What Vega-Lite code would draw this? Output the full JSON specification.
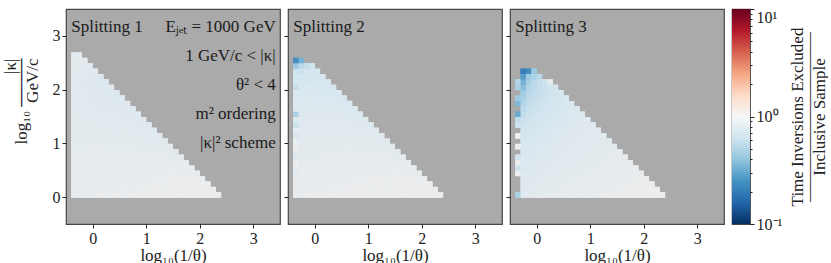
{
"$schema": "https://vega.github.io/schema/vega-lite/v6.json",
"padding": {"left": 0, "top": 7, "right": 0, "bottom": 0},
"background": "white",
"datasets": {
"p1": [
{"x":-0.41,"y":0,"v":0.86},{"x":-0.31,"y":0,"v":0.87},{"x":-0.21,"y":0,"v":0.88},{"x":-0.11,"y":0,"v":0.87},{"x":-0.01,"y":0,"v":0.88},{"x":0.09,"y":0,"v":0.89},{"x":0.19,"y":0,"v":0.88},{"x":0.29,"y":0,"v":0.89},{"x":0.39,"y":0,"v":0.89},{"x":0.49,"y":0,"v":0.88},{"x":0.59,"y":0,"v":0.89},{"x":0.69,"y":0,"v":0.9},{"x":0.79,"y":0,"v":0.89},{"x":0.89,"y":0,"v":0.9},{"x":0.99,"y":0,"v":0.9},{"x":1.09,"y":0,"v":0.89},{"x":1.19,"y":0,"v":0.9},{"x":1.29,"y":0,"v":0.91},{"x":1.39,"y":0,"v":0.9},{"x":1.49,"y":0,"v":0.91},{"x":1.59,"y":0,"v":0.91},{"x":1.69,"y":0,"v":0.9},{"x":1.79,"y":0,"v":0.91},{"x":1.89,"y":0,"v":0.92},{"x":1.99,"y":0,"v":0.91},{"x":2.09,"y":0,"v":0.92},{"x":2.19,"y":0,"v":0.91},{"x":2.29,"y":0,"v":0.92},
{"x":-0.41,"y":0.1,"v":0.85},{"x":-0.31,"y":0.1,"v":0.87},{"x":-0.21,"y":0.1,"v":0.87},{"x":-0.11,"y":0.1,"v":0.88},{"x":-0.01,"y":0.1,"v":0.87},{"x":0.09,"y":0.1,"v":0.88},{"x":0.19,"y":0.1,"v":0.89},{"x":0.29,"y":0.1,"v":0.88},{"x":0.39,"y":0.1,"v":0.88},{"x":0.49,"y":0.1,"v":0.89},{"x":0.59,"y":0.1,"v":0.89},{"x":0.69,"y":0.1,"v":0.88},{"x":0.79,"y":0.1,"v":0.89},{"x":0.89,"y":0.1,"v":0.9},{"x":0.99,"y":0.1,"v":0.89},{"x":1.09,"y":0.1,"v":0.9},{"x":1.19,"y":0.1,"v":0.89},{"x":1.29,"y":0.1,"v":0.9},{"x":1.39,"y":0.1,"v":0.91},{"x":1.49,"y":0.1,"v":0.9},{"x":1.59,"y":0.1,"v":0.91},{"x":1.69,"y":0.1,"v":0.9},{"x":1.79,"y":0.1,"v":0.91},{"x":1.89,"y":0.1,"v":0.91},{"x":1.99,"y":0.1,"v":0.92},{"x":2.09,"y":0.1,"v":0.91},{"x":2.19,"y":0.1,"v":0.91},
{"x":-0.41,"y":0.2,"v":0.86},{"x":-0.31,"y":0.2,"v":0.86},{"x":-0.21,"y":0.2,"v":0.87},{"x":-0.11,"y":0.2,"v":0.86},{"x":-0.01,"y":0.2,"v":0.88},{"x":0.09,"y":0.2,"v":0.87},{"x":0.19,"y":0.2,"v":0.88},{"x":0.29,"y":0.2,"v":0.88},{"x":0.39,"y":0.2,"v":0.87},{"x":0.49,"y":0.2,"v":0.88},{"x":0.59,"y":0.2,"v":0.89},{"x":0.69,"y":0.2,"v":0.88},{"x":0.79,"y":0.2,"v":0.89},{"x":0.89,"y":0.2,"v":0.88},{"x":0.99,"y":0.2,"v":0.89},{"x":1.09,"y":0.2,"v":0.89},{"x":1.19,"y":0.2,"v":0.9},{"x":1.29,"y":0.2,"v":0.89},{"x":1.39,"y":0.2,"v":0.9},{"x":1.49,"y":0.2,"v":0.89},{"x":1.59,"y":0.2,"v":0.9},{"x":1.69,"y":0.2,"v":0.9},{"x":1.79,"y":0.2,"v":0.91},{"x":1.89,"y":0.2,"v":0.9},{"x":1.99,"y":0.2,"v":0.9},{"x":2.09,"y":0.2,"v":0.89},
{"x":-0.41,"y":0.3,"v":0.85},{"x":-0.31,"y":0.3,"v":0.86},{"x":-0.21,"y":0.3,"v":0.86},{"x":-0.11,"y":0.3,"v":0.87},{"x":-0.01,"y":0.3,"v":0.86},{"x":0.09,"y":0.3,"v":0.87},{"x":0.19,"y":0.3,"v":0.87},{"x":0.29,"y":0.3,"v":0.88},{"x":0.39,"y":0.3,"v":0.87},{"x":0.49,"y":0.3,"v":0.88},{"x":0.59,"y":0.3,"v":0.87},{"x":0.69,"y":0.3,"v":0.88},{"x":0.79,"y":0.3,"v":0.88},{"x":0.89,"y":0.3,"v":0.89},{"x":0.99,"y":0.3,"v":0.88},{"x":1.09,"y":0.3,"v":0.89},{"x":1.19,"y":0.3,"v":0.88},{"x":1.29,"y":0.3,"v":0.89},{"x":1.39,"y":0.3,"v":0.89},{"x":1.49,"y":0.3,"v":0.9},{"x":1.59,"y":0.3,"v":0.89},{"x":1.69,"y":0.3,"v":0.89},{"x":1.79,"y":0.3,"v":0.9},{"x":1.89,"y":0.3,"v":0.89},{"x":1.99,"y":0.3,"v":0.88},
{"x":-0.41,"y":0.4,"v":0.84},{"x":-0.31,"y":0.4,"v":0.85},{"x":-0.21,"y":0.4,"v":0.86},{"x":-0.11,"y":0.4,"v":0.85},{"x":-0.01,"y":0.4,"v":0.86},{"x":0.09,"y":0.4,"v":0.86},{"x":0.19,"y":0.4,"v":0.87},{"x":0.29,"y":0.4,"v":0.86},{"x":0.39,"y":0.4,"v":0.87},{"x":0.49,"y":0.4,"v":0.86},{"x":0.59,"y":0.4,"v":0.87},{"x":0.69,"y":0.4,"v":0.87},{"x":0.79,"y":0.4,"v":0.88},{"x":0.89,"y":0.4,"v":0.87},{"x":0.99,"y":0.4,"v":0.88},{"x":1.09,"y":0.4,"v":0.88},{"x":1.19,"y":0.4,"v":0.87},{"x":1.29,"y":0.4,"v":0.88},{"x":1.39,"y":0.4,"v":0.89},{"x":1.49,"y":0.4,"v":0.88},{"x":1.59,"y":0.4,"v":0.88},{"x":1.69,"y":0.4,"v":0.89},{"x":1.79,"y":0.4,"v":0.88},{"x":1.89,"y":0.4,"v":0.87},
{"x":-0.41,"y":0.5,"v":0.84},{"x":-0.31,"y":0.5,"v":0.84},{"x":-0.21,"y":0.5,"v":0.85},{"x":-0.11,"y":0.5,"v":0.85},{"x":-0.01,"y":0.5,"v":0.86},{"x":0.09,"y":0.5,"v":0.85},{"x":0.19,"y":0.5,"v":0.86},{"x":0.29,"y":0.5,"v":0.86},{"x":0.39,"y":0.5,"v":0.85},{"x":0.49,"y":0.5,"v":0.86},{"x":0.59,"y":0.5,"v":0.86},{"x":0.69,"y":0.5,"v":0.87},{"x":0.79,"y":0.5,"v":0.86},{"x":0.89,"y":0.5,"v":0.87},{"x":0.99,"y":0.5,"v":0.87},{"x":1.09,"y":0.5,"v":0.86},{"x":1.19,"y":0.5,"v":0.87},{"x":1.29,"y":0.5,"v":0.87},{"x":1.39,"y":0.5,"v":0.88},{"x":1.49,"y":0.5,"v":0.87},{"x":1.59,"y":0.5,"v":0.87},{"x":1.69,"y":0.5,"v":0.86},{"x":1.79,"y":0.5,"v":0.85},
{"x":-0.41,"y":0.6,"v":0.83},{"x":-0.31,"y":0.6,"v":0.84},{"x":-0.21,"y":0.6,"v":0.84},{"x":-0.11,"y":0.6,"v":0.85},{"x":-0.01,"y":0.6,"v":0.84},{"x":0.09,"y":0.6,"v":0.85},{"x":0.19,"y":0.6,"v":0.85},{"x":0.29,"y":0.6,"v":0.84},{"x":0.39,"y":0.6,"v":0.85},{"x":0.49,"y":0.6,"v":0.85},{"x":0.59,"y":0.6,"v":0.86},{"x":0.69,"y":0.6,"v":0.85},{"x":0.79,"y":0.6,"v":0.86},{"x":0.89,"y":0.6,"v":0.85},{"x":0.99,"y":0.6,"v":0.86},{"x":1.09,"y":0.6,"v":0.86},{"x":1.19,"y":0.6,"v":0.85},{"x":1.29,"y":0.6,"v":0.86},{"x":1.39,"y":0.6,"v":0.86},{"x":1.49,"y":0.6,"v":0.85},{"x":1.59,"y":0.6,"v":0.84},{"x":1.69,"y":0.6,"v":0.83},
{"x":-0.41,"y":0.7,"v":0.84},{"x":-0.31,"y":0.7,"v":0.83},{"x":-0.21,"y":0.7,"v":0.84},{"x":-0.11,"y":0.7,"v":0.84},{"x":-0.01,"y":0.7,"v":0.84},{"x":0.09,"y":0.7,"v":0.84},{"x":0.19,"y":0.7,"v":0.83},{"x":0.29,"y":0.7,"v":0.84},{"x":0.39,"y":0.7,"v":0.84},{"x":0.49,"y":0.7,"v":0.85},{"x":0.59,"y":0.7,"v":0.84},{"x":0.69,"y":0.7,"v":0.85},{"x":0.79,"y":0.7,"v":0.84},{"x":0.89,"y":0.7,"v":0.85},{"x":0.99,"y":0.7,"v":0.84},{"x":1.09,"y":0.7,"v":0.85},{"x":1.19,"y":0.7,"v":0.84},{"x":1.29,"y":0.7,"v":0.84},{"x":1.39,"y":0.7,"v":0.83},{"x":1.49,"y":0.7,"v":0.82},{"x":1.59,"y":0.7,"v":0.81},
{"x":-0.41,"y":0.8,"v":0.83},{"x":-0.31,"y":0.8,"v":0.83},{"x":-0.21,"y":0.8,"v":0.83},{"x":-0.11,"y":0.8,"v":0.84},{"x":-0.01,"y":0.8,"v":0.83},{"x":0.09,"y":0.8,"v":0.83},{"x":0.19,"y":0.8,"v":0.83},{"x":0.29,"y":0.8,"v":0.84},{"x":0.39,"y":0.8,"v":0.83},{"x":0.49,"y":0.8,"v":0.83},{"x":0.59,"y":0.8,"v":0.84},{"x":0.69,"y":0.8,"v":0.83},{"x":0.79,"y":0.8,"v":0.84},{"x":0.89,"y":0.8,"v":0.83},{"x":0.99,"y":0.8,"v":0.83},{"x":1.09,"y":0.8,"v":0.83},{"x":1.19,"y":0.8,"v":0.82},{"x":1.29,"y":0.8,"v":0.82},{"x":1.39,"y":0.8,"v":0.81},{"x":1.49,"y":0.8,"v":0.8},
{"x":-0.41,"y":0.9,"v":0.82},{"x":-0.31,"y":0.9,"v":0.83},{"x":-0.21,"y":0.9,"v":0.82},{"x":-0.11,"y":0.9,"v":0.83},{"x":-0.01,"y":0.9,"v":0.82},{"x":0.09,"y":0.9,"v":0.83},{"x":0.19,"y":0.9,"v":0.82},{"x":0.29,"y":0.9,"v":0.83},{"x":0.39,"y":0.9,"v":0.82},{"x":0.49,"y":0.9,"v":0.82},{"x":0.59,"y":0.9,"v":0.83},{"x":0.69,"y":0.9,"v":0.82},{"x":0.79,"y":0.9,"v":0.82},{"x":0.89,"y":0.9,"v":0.81},{"x":0.99,"y":0.9,"v":0.82},{"x":1.09,"y":0.9,"v":0.81},{"x":1.19,"y":0.9,"v":0.8},{"x":1.29,"y":0.9,"v":0.8},{"x":1.39,"y":0.9,"v":0.79},
{"x":-0.41,"y":1,"v":0.83},{"x":-0.31,"y":1,"v":0.82},{"x":-0.21,"y":1,"v":0.82},{"x":-0.11,"y":1,"v":0.82},{"x":-0.01,"y":1,"v":0.82},{"x":0.09,"y":1,"v":0.81},{"x":0.19,"y":1,"v":0.82},{"x":0.29,"y":1,"v":0.82},{"x":0.39,"y":1,"v":0.81},{"x":0.49,"y":1,"v":0.82},{"x":0.59,"y":1,"v":0.81},{"x":0.69,"y":1,"v":0.81},{"x":0.79,"y":1,"v":0.81},{"x":0.89,"y":1,"v":0.8},{"x":0.99,"y":1,"v":0.8},{"x":1.09,"y":1,"v":0.79},{"x":1.19,"y":1,"v":0.79},{"x":1.29,"y":1,"v":0.78},
{"x":-0.41,"y":1.1,"v":0.82},{"x":-0.31,"y":1.1,"v":0.82},{"x":-0.21,"y":1.1,"v":0.81},{"x":-0.11,"y":1.1,"v":0.82},{"x":-0.01,"y":1.1,"v":0.81},{"x":0.09,"y":1.1,"v":0.81},{"x":0.19,"y":1.1,"v":0.81},{"x":0.29,"y":1.1,"v":0.8},{"x":0.39,"y":1.1,"v":0.81},{"x":0.49,"y":1.1,"v":0.8},{"x":0.59,"y":1.1,"v":0.8},{"x":0.69,"y":1.1,"v":0.8},{"x":0.79,"y":1.1,"v":0.79},{"x":0.89,"y":1.1,"v":0.79},{"x":0.99,"y":1.1,"v":0.78},{"x":1.09,"y":1.1,"v":0.78},{"x":1.19,"y":1.1,"v":0.77},
{"x":-0.41,"y":1.2,"v":0.82},{"x":-0.31,"y":1.2,"v":0.81},{"x":-0.21,"y":1.2,"v":0.81},{"x":-0.11,"y":1.2,"v":0.8},{"x":-0.01,"y":1.2,"v":0.81},{"x":0.09,"y":1.2,"v":0.8},{"x":0.19,"y":1.2,"v":0.8},{"x":0.29,"y":1.2,"v":0.8},{"x":0.39,"y":1.2,"v":0.79},{"x":0.49,"y":1.2,"v":0.8},{"x":0.59,"y":1.2,"v":0.79},{"x":0.69,"y":1.2,"v":0.79},{"x":0.79,"y":1.2,"v":0.78},{"x":0.89,"y":1.2,"v":0.78},{"x":0.99,"y":1.2,"v":0.77},{"x":1.09,"y":1.2,"v":0.76},
{"x":-0.41,"y":1.3,"v":0.81},{"x":-0.31,"y":1.3,"v":0.81},{"x":-0.21,"y":1.3,"v":0.8},{"x":-0.11,"y":1.3,"v":0.8},{"x":-0.01,"y":1.3,"v":0.8},{"x":0.09,"y":1.3,"v":0.79},{"x":0.19,"y":1.3,"v":0.8},{"x":0.29,"y":1.3,"v":0.79},{"x":0.39,"y":1.3,"v":0.79},{"x":0.49,"y":1.3,"v":0.78},{"x":0.59,"y":1.3,"v":0.78},{"x":0.69,"y":1.3,"v":0.78},{"x":0.79,"y":1.3,"v":0.77},{"x":0.89,"y":1.3,"v":0.76},{"x":0.99,"y":1.3,"v":0.76},
{"x":-0.41,"y":1.4,"v":0.81},{"x":-0.31,"y":1.4,"v":0.8},{"x":-0.21,"y":1.4,"v":0.8},{"x":-0.11,"y":1.4,"v":0.79},{"x":-0.01,"y":1.4,"v":0.79},{"x":0.09,"y":1.4,"v":0.79},{"x":0.19,"y":1.4,"v":0.78},{"x":0.29,"y":1.4,"v":0.78},{"x":0.39,"y":1.4,"v":0.78},{"x":0.49,"y":1.4,"v":0.77},{"x":0.59,"y":1.4,"v":0.77},{"x":0.69,"y":1.4,"v":0.76},{"x":0.79,"y":1.4,"v":0.76},{"x":0.89,"y":1.4,"v":0.75},
{"x":-0.41,"y":1.5,"v":0.8},{"x":-0.31,"y":1.5,"v":0.8},{"x":-0.21,"y":1.5,"v":0.79},{"x":-0.11,"y":1.5,"v":0.79},{"x":-0.01,"y":1.5,"v":0.78},{"x":0.09,"y":1.5,"v":0.78},{"x":0.19,"y":1.5,"v":0.78},{"x":0.29,"y":1.5,"v":0.77},{"x":0.39,"y":1.5,"v":0.77},{"x":0.49,"y":1.5,"v":0.76},{"x":0.59,"y":1.5,"v":0.76},{"x":0.69,"y":1.5,"v":0.75},{"x":0.79,"y":1.5,"v":0.75},
{"x":-0.41,"y":1.6,"v":0.81},{"x":-0.31,"y":1.6,"v":0.79},{"x":-0.21,"y":1.6,"v":0.79},{"x":-0.11,"y":1.6,"v":0.78},{"x":-0.01,"y":1.6,"v":0.78},{"x":0.09,"y":1.6,"v":0.77},{"x":0.19,"y":1.6,"v":0.77},{"x":0.29,"y":1.6,"v":0.77},{"x":0.39,"y":1.6,"v":0.76},{"x":0.49,"y":1.6,"v":0.76},{"x":0.59,"y":1.6,"v":0.75},{"x":0.69,"y":1.6,"v":0.75},
{"x":-0.41,"y":1.7,"v":0.8},{"x":-0.31,"y":1.7,"v":0.79},{"x":-0.21,"y":1.7,"v":0.78},{"x":-0.11,"y":1.7,"v":0.78},{"x":-0.01,"y":1.7,"v":0.77},{"x":0.09,"y":1.7,"v":0.77},{"x":0.19,"y":1.7,"v":0.76},{"x":0.29,"y":1.7,"v":0.76},{"x":0.39,"y":1.7,"v":0.76},{"x":0.49,"y":1.7,"v":0.75},{"x":0.59,"y":1.7,"v":0.75},
{"x":-0.41,"y":1.8,"v":0.8},{"x":-0.31,"y":1.8,"v":0.79},{"x":-0.21,"y":1.8,"v":0.78},{"x":-0.11,"y":1.8,"v":0.77},{"x":-0.01,"y":1.8,"v":0.77},{"x":0.09,"y":1.8,"v":0.76},{"x":0.19,"y":1.8,"v":0.76},{"x":0.29,"y":1.8,"v":0.75},{"x":0.39,"y":1.8,"v":0.75},{"x":0.49,"y":1.8,"v":0.74},
{"x":-0.41,"y":1.9,"v":0.81},{"x":-0.31,"y":1.9,"v":0.78},{"x":-0.21,"y":1.9,"v":0.78},{"x":-0.11,"y":1.9,"v":0.77},{"x":-0.01,"y":1.9,"v":0.76},{"x":0.09,"y":1.9,"v":0.76},{"x":0.19,"y":1.9,"v":0.75},{"x":0.29,"y":1.9,"v":0.75},{"x":0.39,"y":1.9,"v":0.74},
{"x":-0.41,"y":2,"v":0.8},{"x":-0.31,"y":2,"v":0.78},{"x":-0.21,"y":2,"v":0.77},{"x":-0.11,"y":2,"v":0.77},{"x":-0.01,"y":2,"v":0.76},{"x":0.09,"y":2,"v":0.75},{"x":0.19,"y":2,"v":0.75},{"x":0.29,"y":2,"v":0.74},
{"x":-0.41,"y":2.1,"v":0.81},{"x":-0.31,"y":2.1,"v":0.79},{"x":-0.21,"y":2.1,"v":0.77},{"x":-0.11,"y":2.1,"v":0.76},{"x":-0.01,"y":2.1,"v":0.76},{"x":0.09,"y":2.1,"v":0.75},{"x":0.19,"y":2.1,"v":0.75},
{"x":-0.41,"y":2.2,"v":0.8},{"x":-0.31,"y":2.2,"v":0.78},{"x":-0.21,"y":2.2,"v":0.77},{"x":-0.11,"y":2.2,"v":0.76},{"x":-0.01,"y":2.2,"v":0.76},{"x":0.09,"y":2.2,"v":0.75},
{"x":-0.41,"y":2.3,"v":0.81},{"x":-0.31,"y":2.3,"v":0.79},{"x":-0.21,"y":2.3,"v":0.78},{"x":-0.11,"y":2.3,"v":0.77},{"x":-0.01,"y":2.3,"v":0.76},
{"x":-0.41,"y":2.4,"v":0.82},{"x":-0.31,"y":2.4,"v":0.8},{"x":-0.21,"y":2.4,"v":0.79},{"x":-0.11,"y":2.4,"v":0.78},
{"x":-0.41,"y":2.5,"v":0.82},{"x":-0.31,"y":2.5,"v":0.81},{"x":-0.21,"y":2.5,"v":0.8},
{"x":-0.41,"y":2.6,"v":0.83},{"x":-0.31,"y":2.6,"v":0.82}
],
"p2": [
{"x":-0.41,"y":0,"v":0.85},{"x":-0.31,"y":0,"v":0.88},{"x":-0.21,"y":0,"v":0.89},{"x":-0.11,"y":0,"v":0.88},{"x":-0.01,"y":0,"v":0.89},{"x":0.09,"y":0,"v":0.89},{"x":0.19,"y":0,"v":0.9},{"x":0.29,"y":0,"v":0.89},{"x":0.39,"y":0,"v":0.9},{"x":0.49,"y":0,"v":0.9},{"x":0.59,"y":0,"v":0.9},{"x":0.69,"y":0,"v":0.91},{"x":0.79,"y":0,"v":0.9},{"x":0.89,"y":0,"v":0.91},{"x":0.99,"y":0,"v":0.91},{"x":1.09,"y":0,"v":0.9},{"x":1.19,"y":0,"v":0.91},{"x":1.29,"y":0,"v":0.91},{"x":1.39,"y":0,"v":0.92},{"x":1.49,"y":0,"v":0.91},{"x":1.59,"y":0,"v":0.92},{"x":1.69,"y":0,"v":0.92},{"x":1.79,"y":0,"v":0.91},{"x":1.89,"y":0,"v":0.92},{"x":1.99,"y":0,"v":0.93},{"x":2.09,"y":0,"v":0.92},{"x":2.19,"y":0,"v":0.92},{"x":2.29,"y":0,"v":0.93},
{"x":-0.41,"y":0.1,"v":0.87},{"x":-0.31,"y":0.1,"v":0.87},{"x":-0.21,"y":0.1,"v":0.88},{"x":-0.11,"y":0.1,"v":0.88},{"x":-0.01,"y":0.1,"v":0.89},{"x":0.09,"y":0.1,"v":0.88},{"x":0.19,"y":0.1,"v":0.89},{"x":0.29,"y":0.1,"v":0.89},{"x":0.39,"y":0.1,"v":0.89},{"x":0.49,"y":0.1,"v":0.9},{"x":0.59,"y":0.1,"v":0.89},{"x":0.69,"y":0.1,"v":0.9},{"x":0.79,"y":0.1,"v":0.9},{"x":0.89,"y":0.1,"v":0.9},{"x":0.99,"y":0.1,"v":0.91},{"x":1.09,"y":0.1,"v":0.9},{"x":1.19,"y":0.1,"v":0.91},{"x":1.29,"y":0.1,"v":0.91},{"x":1.39,"y":0.1,"v":0.9},{"x":1.49,"y":0.1,"v":0.91},{"x":1.59,"y":0.1,"v":0.92},{"x":1.69,"y":0.1,"v":0.91},{"x":1.79,"y":0.1,"v":0.92},{"x":1.89,"y":0.1,"v":0.92},{"x":1.99,"y":0.1,"v":0.91},{"x":2.09,"y":0.1,"v":0.92},{"x":2.19,"y":0.1,"v":0.91},
{"x":-0.41,"y":0.2,"v":0.83},{"x":-0.31,"y":0.2,"v":0.86},{"x":-0.21,"y":0.2,"v":0.87},{"x":-0.11,"y":0.2,"v":0.87},{"x":-0.01,"y":0.2,"v":0.88},{"x":0.09,"y":0.2,"v":0.87},{"x":0.19,"y":0.2,"v":0.88},{"x":0.29,"y":0.2,"v":0.88},{"x":0.39,"y":0.2,"v":0.89},{"x":0.49,"y":0.2,"v":0.88},{"x":0.59,"y":0.2,"v":0.89},{"x":0.69,"y":0.2,"v":0.89},{"x":0.79,"y":0.2,"v":0.89},{"x":0.89,"y":0.2,"v":0.9},{"x":0.99,"y":0.2,"v":0.89},{"x":1.09,"y":0.2,"v":0.9},{"x":1.19,"y":0.2,"v":0.9},{"x":1.29,"y":0.2,"v":0.9},{"x":1.39,"y":0.2,"v":0.91},{"x":1.49,"y":0.2,"v":0.9},{"x":1.59,"y":0.2,"v":0.91},{"x":1.69,"y":0.2,"v":0.91},{"x":1.79,"y":0.2,"v":0.9},{"x":1.89,"y":0.2,"v":0.91},{"x":1.99,"y":0.2,"v":0.9},{"x":2.09,"y":0.2,"v":0.89},
{"x":-0.41,"y":0.3,"v":0.86},{"x":-0.31,"y":0.3,"v":0.85},{"x":-0.21,"y":0.3,"v":0.86},{"x":-0.11,"y":0.3,"v":0.86},{"x":-0.01,"y":0.3,"v":0.87},{"x":0.09,"y":0.3,"v":0.87},{"x":0.19,"y":0.3,"v":0.87},{"x":0.29,"y":0.3,"v":0.88},{"x":0.39,"y":0.3,"v":0.87},{"x":0.49,"y":0.3,"v":0.88},{"x":0.59,"y":0.3,"v":0.88},{"x":0.69,"y":0.3,"v":0.89},{"x":0.79,"y":0.3,"v":0.88},{"x":0.89,"y":0.3,"v":0.89},{"x":0.99,"y":0.3,"v":0.89},{"x":1.09,"y":0.3,"v":0.89},{"x":1.19,"y":0.3,"v":0.89},{"x":1.29,"y":0.3,"v":0.9},{"x":1.39,"y":0.3,"v":0.89},{"x":1.49,"y":0.3,"v":0.9},{"x":1.59,"y":0.3,"v":0.9},{"x":1.69,"y":0.3,"v":0.89},{"x":1.79,"y":0.3,"v":0.9},{"x":1.89,"y":0.3,"v":0.89},{"x":1.99,"y":0.3,"v":0.88},
{"x":-0.41,"y":0.4,"v":0.77},{"x":-0.31,"y":0.4,"v":0.84},{"x":-0.21,"y":0.4,"v":0.85},{"x":-0.11,"y":0.4,"v":0.85},{"x":-0.01,"y":0.4,"v":0.86},{"x":0.09,"y":0.4,"v":0.86},{"x":0.19,"y":0.4,"v":0.86},{"x":0.29,"y":0.4,"v":0.86},{"x":0.39,"y":0.4,"v":0.87},{"x":0.49,"y":0.4,"v":0.87},{"x":0.59,"y":0.4,"v":0.87},{"x":0.69,"y":0.4,"v":0.87},{"x":0.79,"y":0.4,"v":0.88},{"x":0.89,"y":0.4,"v":0.87},{"x":0.99,"y":0.4,"v":0.88},{"x":1.09,"y":0.4,"v":0.88},{"x":1.19,"y":0.4,"v":0.88},{"x":1.29,"y":0.4,"v":0.89},{"x":1.39,"y":0.4,"v":0.88},{"x":1.49,"y":0.4,"v":0.89},{"x":1.59,"y":0.4,"v":0.88},{"x":1.69,"y":0.4,"v":0.89},{"x":1.79,"y":0.4,"v":0.88},{"x":1.89,"y":0.4,"v":0.87},
{"x":-0.41,"y":0.5,"v":0.87},{"x":-0.31,"y":0.5,"v":0.83},{"x":-0.21,"y":0.5,"v":0.84},{"x":-0.11,"y":0.5,"v":0.84},{"x":-0.01,"y":0.5,"v":0.85},{"x":0.09,"y":0.5,"v":0.85},{"x":0.19,"y":0.5,"v":0.85},{"x":0.29,"y":0.5,"v":0.86},{"x":0.39,"y":0.5,"v":0.85},{"x":0.49,"y":0.5,"v":0.86},{"x":0.59,"y":0.5,"v":0.86},{"x":0.69,"y":0.5,"v":0.86},{"x":0.79,"y":0.5,"v":0.87},{"x":0.89,"y":0.5,"v":0.86},{"x":0.99,"y":0.5,"v":0.87},{"x":1.09,"y":0.5,"v":0.87},{"x":1.19,"y":0.5,"v":0.87},{"x":1.29,"y":0.5,"v":0.87},{"x":1.39,"y":0.5,"v":0.88},{"x":1.49,"y":0.5,"v":0.87},{"x":1.59,"y":0.5,"v":0.87},{"x":1.69,"y":0.5,"v":0.86},{"x":1.79,"y":0.5,"v":0.85},
{"x":-0.41,"y":0.6,"v":0.92},{"x":-0.31,"y":0.6,"v":0.82},{"x":-0.21,"y":0.6,"v":0.83},{"x":-0.11,"y":0.6,"v":0.83},{"x":-0.01,"y":0.6,"v":0.84},{"x":0.09,"y":0.6,"v":0.84},{"x":0.19,"y":0.6,"v":0.84},{"x":0.29,"y":0.6,"v":0.85},{"x":0.39,"y":0.6,"v":0.84},{"x":0.49,"y":0.6,"v":0.85},{"x":0.59,"y":0.6,"v":0.85},{"x":0.69,"y":0.6,"v":0.85},{"x":0.79,"y":0.6,"v":0.86},{"x":0.89,"y":0.6,"v":0.85},{"x":0.99,"y":0.6,"v":0.86},{"x":1.09,"y":0.6,"v":0.86},{"x":1.19,"y":0.6,"v":0.86},{"x":1.29,"y":0.6,"v":0.86},{"x":1.39,"y":0.6,"v":0.86},{"x":1.49,"y":0.6,"v":0.85},{"x":1.59,"y":0.6,"v":0.84},{"x":1.69,"y":0.6,"v":0.83},
{"x":-0.41,"y":0.7,"v":0.75},{"x":-0.31,"y":0.7,"v":0.81},{"x":-0.21,"y":0.7,"v":0.82},{"x":-0.11,"y":0.7,"v":0.82},{"x":-0.01,"y":0.7,"v":0.83},{"x":0.09,"y":0.7,"v":0.83},{"x":0.19,"y":0.7,"v":0.83},{"x":0.29,"y":0.7,"v":0.83},{"x":0.39,"y":0.7,"v":0.84},{"x":0.49,"y":0.7,"v":0.84},{"x":0.59,"y":0.7,"v":0.84},{"x":0.69,"y":0.7,"v":0.84},{"x":0.79,"y":0.7,"v":0.84},{"x":0.89,"y":0.7,"v":0.85},{"x":0.99,"y":0.7,"v":0.84},{"x":1.09,"y":0.7,"v":0.85},{"x":1.19,"y":0.7,"v":0.84},{"x":1.29,"y":0.7,"v":0.84},{"x":1.39,"y":0.7,"v":0.83},{"x":1.49,"y":0.7,"v":0.82},{"x":1.59,"y":0.7,"v":0.81},
{"x":-0.41,"y":0.8,"v":0.85},{"x":-0.31,"y":0.8,"v":0.81},{"x":-0.21,"y":0.8,"v":0.81},{"x":-0.11,"y":0.8,"v":0.81},{"x":-0.01,"y":0.8,"v":0.82},{"x":0.09,"y":0.8,"v":0.82},{"x":0.19,"y":0.8,"v":0.82},{"x":0.29,"y":0.8,"v":0.83},{"x":0.39,"y":0.8,"v":0.82},{"x":0.49,"y":0.8,"v":0.83},{"x":0.59,"y":0.8,"v":0.83},{"x":0.69,"y":0.8,"v":0.83},{"x":0.79,"y":0.8,"v":0.83},{"x":0.89,"y":0.8,"v":0.83},{"x":0.99,"y":0.8,"v":0.83},{"x":1.09,"y":0.8,"v":0.83},{"x":1.19,"y":0.8,"v":0.82},{"x":1.29,"y":0.8,"v":0.82},{"x":1.39,"y":0.8,"v":0.81},{"x":1.49,"y":0.8,"v":0.8},
{"x":-0.41,"y":0.9,"v":0.89},{"x":-0.31,"y":0.9,"v":0.8},{"x":-0.21,"y":0.9,"v":0.8},{"x":-0.11,"y":0.9,"v":0.81},{"x":-0.01,"y":0.9,"v":0.81},{"x":0.09,"y":0.9,"v":0.81},{"x":0.19,"y":0.9,"v":0.81},{"x":0.29,"y":0.9,"v":0.82},{"x":0.39,"y":0.9,"v":0.82},{"x":0.49,"y":0.9,"v":0.82},{"x":0.59,"y":0.9,"v":0.82},{"x":0.69,"y":0.9,"v":0.82},{"x":0.79,"y":0.9,"v":0.82},{"x":0.89,"y":0.9,"v":0.82},{"x":0.99,"y":0.9,"v":0.82},{"x":1.09,"y":0.9,"v":0.81},{"x":1.19,"y":0.9,"v":0.81},{"x":1.29,"y":0.9,"v":0.8},{"x":1.39,"y":0.9,"v":0.79},
{"x":-0.41,"y":1,"v":0.91},{"x":-0.31,"y":1,"v":0.79},{"x":-0.21,"y":1,"v":0.8},{"x":-0.11,"y":1,"v":0.8},{"x":-0.01,"y":1,"v":0.8},{"x":0.09,"y":1,"v":0.81},{"x":0.19,"y":1,"v":0.81},{"x":0.29,"y":1,"v":0.81},{"x":0.39,"y":1,"v":0.81},{"x":0.49,"y":1,"v":0.81},{"x":0.59,"y":1,"v":0.81},{"x":0.69,"y":1,"v":0.81},{"x":0.79,"y":1,"v":0.81},{"x":0.89,"y":1,"v":0.81},{"x":0.99,"y":1,"v":0.8},{"x":1.09,"y":1,"v":0.8},{"x":1.19,"y":1,"v":0.79},{"x":1.29,"y":1,"v":0.78},
{"x":-0.41,"y":1.1,"v":0.7},{"x":-0.31,"y":1.1,"v":0.79},{"x":-0.21,"y":1.1,"v":0.79},{"x":-0.11,"y":1.1,"v":0.79},{"x":-0.01,"y":1.1,"v":0.8},{"x":0.09,"y":1.1,"v":0.8},{"x":0.19,"y":1.1,"v":0.8},{"x":0.29,"y":1.1,"v":0.8},{"x":0.39,"y":1.1,"v":0.8},{"x":0.49,"y":1.1,"v":0.8},{"x":0.59,"y":1.1,"v":0.8},{"x":0.69,"y":1.1,"v":0.8},{"x":0.79,"y":1.1,"v":0.8},{"x":0.89,"y":1.1,"v":0.79},{"x":0.99,"y":1.1,"v":0.79},{"x":1.09,"y":1.1,"v":0.78},{"x":1.19,"y":1.1,"v":0.77},
{"x":-0.41,"y":1.2,"v":0.83},{"x":-0.31,"y":1.2,"v":0.78},{"x":-0.21,"y":1.2,"v":0.78},{"x":-0.11,"y":1.2,"v":0.79},{"x":-0.01,"y":1.2,"v":0.79},{"x":0.09,"y":1.2,"v":0.79},{"x":0.19,"y":1.2,"v":0.79},{"x":0.29,"y":1.2,"v":0.79},{"x":0.39,"y":1.2,"v":0.79},{"x":0.49,"y":1.2,"v":0.79},{"x":0.59,"y":1.2,"v":0.79},{"x":0.69,"y":1.2,"v":0.79},{"x":0.79,"y":1.2,"v":0.78},{"x":0.89,"y":1.2,"v":0.78},{"x":0.99,"y":1.2,"v":0.77},{"x":1.09,"y":1.2,"v":0.76},
{"x":-0.41,"y":1.3,"v":0.6},{"x":-0.31,"y":1.3,"v":0.77},{"x":-0.21,"y":1.3,"v":0.78},{"x":-0.11,"y":1.3,"v":0.78},{"x":-0.01,"y":1.3,"v":0.78},{"x":0.09,"y":1.3,"v":0.78},{"x":0.19,"y":1.3,"v":0.78},{"x":0.29,"y":1.3,"v":0.78},{"x":0.39,"y":1.3,"v":0.78},{"x":0.49,"y":1.3,"v":0.78},{"x":0.59,"y":1.3,"v":0.78},{"x":0.69,"y":1.3,"v":0.77},{"x":0.79,"y":1.3,"v":0.77},{"x":0.89,"y":1.3,"v":0.76},{"x":0.99,"y":1.3,"v":0.75},
{"x":-0.41,"y":1.4,"v":0.77},{"x":-0.31,"y":1.4,"v":0.76},{"x":-0.21,"y":1.4,"v":0.77},{"x":-0.11,"y":1.4,"v":0.77},{"x":-0.01,"y":1.4,"v":0.77},{"x":0.09,"y":1.4,"v":0.77},{"x":0.19,"y":1.4,"v":0.77},{"x":0.29,"y":1.4,"v":0.77},{"x":0.39,"y":1.4,"v":0.77},{"x":0.49,"y":1.4,"v":0.77},{"x":0.59,"y":1.4,"v":0.76},{"x":0.69,"y":1.4,"v":0.76},{"x":0.79,"y":1.4,"v":0.75},{"x":0.89,"y":1.4,"v":0.74},
{"x":-0.41,"y":1.5,"v":0.45},{"x":-0.31,"y":1.5,"v":0.75},{"x":-0.21,"y":1.5,"v":0.76},{"x":-0.11,"y":1.5,"v":0.76},{"x":-0.01,"y":1.5,"v":0.76},{"x":0.09,"y":1.5,"v":0.76},{"x":0.19,"y":1.5,"v":0.76},{"x":0.29,"y":1.5,"v":0.76},{"x":0.39,"y":1.5,"v":0.76},{"x":0.49,"y":1.5,"v":0.75},{"x":0.59,"y":1.5,"v":0.75},{"x":0.69,"y":1.5,"v":0.74},{"x":0.79,"y":1.5,"v":0.73},
{"x":-0.41,"y":1.6,"v":0.73},{"x":-0.31,"y":1.6,"v":0.74},{"x":-0.21,"y":1.6,"v":0.75},{"x":-0.11,"y":1.6,"v":0.75},{"x":-0.01,"y":1.6,"v":0.75},{"x":0.09,"y":1.6,"v":0.75},{"x":0.19,"y":1.6,"v":0.75},{"x":0.29,"y":1.6,"v":0.75},{"x":0.39,"y":1.6,"v":0.74},{"x":0.49,"y":1.6,"v":0.74},{"x":0.59,"y":1.6,"v":0.73},{"x":0.69,"y":1.6,"v":0.73},
{"x":-0.41,"y":1.7,"v":0.77},{"x":-0.31,"y":1.7,"v":0.73},{"x":-0.21,"y":1.7,"v":0.74},{"x":-0.11,"y":1.7,"v":0.74},{"x":-0.01,"y":1.7,"v":0.74},{"x":0.09,"y":1.7,"v":0.74},{"x":0.19,"y":1.7,"v":0.74},{"x":0.29,"y":1.7,"v":0.73},{"x":0.39,"y":1.7,"v":0.73},{"x":0.49,"y":1.7,"v":0.72},{"x":0.59,"y":1.7,"v":0.72},
{"x":-0.41,"y":1.8,"v":0.71},{"x":-0.31,"y":1.8,"v":0.72},{"x":-0.21,"y":1.8,"v":0.73},{"x":-0.11,"y":1.8,"v":0.73},{"x":-0.01,"y":1.8,"v":0.73},{"x":0.09,"y":1.8,"v":0.73},{"x":0.19,"y":1.8,"v":0.72},{"x":0.29,"y":1.8,"v":0.72},{"x":0.39,"y":1.8,"v":0.71},{"x":0.49,"y":1.8,"v":0.71},
{"x":-0.41,"y":1.9,"v":0.75},{"x":-0.31,"y":1.9,"v":0.71},{"x":-0.21,"y":1.9,"v":0.72},{"x":-0.11,"y":1.9,"v":0.72},{"x":-0.01,"y":1.9,"v":0.72},{"x":0.09,"y":1.9,"v":0.71},{"x":0.19,"y":1.9,"v":0.71},{"x":0.29,"y":1.9,"v":0.7},{"x":0.39,"y":1.9,"v":0.7},
{"x":-0.41,"y":2,"v":0.56},{"x":-0.31,"y":2,"v":0.7},{"x":-0.21,"y":2,"v":0.71},{"x":-0.11,"y":2,"v":0.71},{"x":-0.01,"y":2,"v":0.7},{"x":0.09,"y":2,"v":0.7},{"x":0.19,"y":2,"v":0.69},{"x":0.29,"y":2,"v":0.69},
{"x":-0.41,"y":2.1,"v":0.69},{"x":-0.31,"y":2.1,"v":0.68},{"x":-0.21,"y":2.1,"v":0.69},{"x":-0.11,"y":2.1,"v":0.69},{"x":-0.01,"y":2.1,"v":0.69},{"x":0.09,"y":2.1,"v":0.68},{"x":0.19,"y":2.1,"v":0.68},
{"x":-0.41,"y":2.2,"v":0.67},{"x":-0.31,"y":2.2,"v":0.65},{"x":-0.21,"y":2.2,"v":0.67},{"x":-0.11,"y":2.2,"v":0.67},{"x":-0.01,"y":2.2,"v":0.67},{"x":0.09,"y":2.2,"v":0.69},
{"x":-0.41,"y":2.3,"v":0.6},{"x":-0.31,"y":2.3,"v":0.6},{"x":-0.21,"y":2.3,"v":0.63},{"x":-0.11,"y":2.3,"v":0.65},{"x":-0.01,"y":2.3,"v":0.69},
{"x":-0.41,"y":2.4,"v":0.4},{"x":-0.31,"y":2.4,"v":0.52},{"x":-0.21,"y":2.4,"v":0.56},{"x":-0.11,"y":2.4,"v":0.62},
{"x":-0.41,"y":2.5,"v":0.2},{"x":-0.31,"y":2.5,"v":0.3}
],
"p3": [
{"x":-0.41,"y":0,"v":0.45},{"x":-0.31,"y":0,"v":0.78},{"x":-0.21,"y":0,"v":0.79},{"x":-0.11,"y":0,"v":0.8},{"x":-0.01,"y":0,"v":0.81},{"x":0.09,"y":0,"v":0.82},{"x":0.19,"y":0,"v":0.82},{"x":0.29,"y":0,"v":0.83},{"x":0.39,"y":0,"v":0.84},{"x":0.49,"y":0,"v":0.84},{"x":0.59,"y":0,"v":0.85},{"x":0.69,"y":0,"v":0.86},{"x":0.79,"y":0,"v":0.86},{"x":0.89,"y":0,"v":0.87},{"x":0.99,"y":0,"v":0.87},{"x":1.09,"y":0,"v":0.88},{"x":1.19,"y":0,"v":0.89},{"x":1.29,"y":0,"v":0.89},{"x":1.39,"y":0,"v":0.9},{"x":1.49,"y":0,"v":0.9},{"x":1.59,"y":0,"v":0.91},{"x":1.69,"y":0,"v":0.91},{"x":1.79,"y":0,"v":0.92},{"x":1.89,"y":0,"v":0.92},{"x":1.99,"y":0,"v":0.93},{"x":2.09,"y":0,"v":0.93},{"x":2.19,"y":0,"v":0.94},{"x":2.29,"y":0,"v":0.94},
{"x":-0.31,"y":0.1,"v":0.77},{"x":-0.21,"y":0.1,"v":0.78},{"x":-0.11,"y":0.1,"v":0.79},{"x":-0.01,"y":0.1,"v":0.8},{"x":0.09,"y":0.1,"v":0.81},{"x":0.19,"y":0.1,"v":0.81},{"x":0.29,"y":0.1,"v":0.82},{"x":0.39,"y":0.1,"v":0.83},{"x":0.49,"y":0.1,"v":0.83},{"x":0.59,"y":0.1,"v":0.84},{"x":0.69,"y":0.1,"v":0.85},{"x":0.79,"y":0.1,"v":0.85},{"x":0.89,"y":0.1,"v":0.86},{"x":0.99,"y":0.1,"v":0.86},{"x":1.09,"y":0.1,"v":0.87},{"x":1.19,"y":0.1,"v":0.88},{"x":1.29,"y":0.1,"v":0.88},{"x":1.39,"y":0.1,"v":0.89},{"x":1.49,"y":0.1,"v":0.89},{"x":1.59,"y":0.1,"v":0.9},{"x":1.69,"y":0.1,"v":0.9},{"x":1.79,"y":0.1,"v":0.91},{"x":1.89,"y":0.1,"v":0.91},{"x":1.99,"y":0.1,"v":0.92},{"x":2.09,"y":0.1,"v":0.92},{"x":2.19,"y":0.1,"v":0.93},
{"x":-0.31,"y":0.2,"v":0.76},{"x":-0.21,"y":0.2,"v":0.77},{"x":-0.11,"y":0.2,"v":0.78},{"x":-0.01,"y":0.2,"v":0.79},{"x":0.09,"y":0.2,"v":0.8},{"x":0.19,"y":0.2,"v":0.8},{"x":0.29,"y":0.2,"v":0.81},{"x":0.39,"y":0.2,"v":0.82},{"x":0.49,"y":0.2,"v":0.82},{"x":0.59,"y":0.2,"v":0.83},{"x":0.69,"y":0.2,"v":0.84},{"x":0.79,"y":0.2,"v":0.84},{"x":0.89,"y":0.2,"v":0.85},{"x":0.99,"y":0.2,"v":0.85},{"x":1.09,"y":0.2,"v":0.86},{"x":1.19,"y":0.2,"v":0.87},{"x":1.29,"y":0.2,"v":0.87},{"x":1.39,"y":0.2,"v":0.88},{"x":1.49,"y":0.2,"v":0.88},{"x":1.59,"y":0.2,"v":0.89},{"x":1.69,"y":0.2,"v":0.89},{"x":1.79,"y":0.2,"v":0.9},{"x":1.89,"y":0.2,"v":0.9},{"x":1.99,"y":0.2,"v":0.91},{"x":2.09,"y":0.2,"v":0.91},
{"x":-0.31,"y":0.3,"v":0.75},{"x":-0.21,"y":0.3,"v":0.76},{"x":-0.11,"y":0.3,"v":0.77},{"x":-0.01,"y":0.3,"v":0.78},{"x":0.09,"y":0.3,"v":0.79},{"x":0.19,"y":0.3,"v":0.8},{"x":0.29,"y":0.3,"v":0.8},{"x":0.39,"y":0.3,"v":0.81},{"x":0.49,"y":0.3,"v":0.82},{"x":0.59,"y":0.3,"v":0.82},{"x":0.69,"y":0.3,"v":0.83},{"x":0.79,"y":0.3,"v":0.83},{"x":0.89,"y":0.3,"v":0.84},{"x":0.99,"y":0.3,"v":0.85},{"x":1.09,"y":0.3,"v":0.85},{"x":1.19,"y":0.3,"v":0.86},{"x":1.29,"y":0.3,"v":0.86},{"x":1.39,"y":0.3,"v":0.87},{"x":1.49,"y":0.3,"v":0.87},{"x":1.59,"y":0.3,"v":0.88},{"x":1.69,"y":0.3,"v":0.88},{"x":1.79,"y":0.3,"v":0.89},{"x":1.89,"y":0.3,"v":0.89},{"x":1.99,"y":0.3,"v":0.9},
{"x":-0.41,"y":0.4,"v":0.95},{"x":-0.31,"y":0.4,"v":0.74},{"x":-0.21,"y":0.4,"v":0.75},{"x":-0.11,"y":0.4,"v":0.76},{"x":-0.01,"y":0.4,"v":0.77},{"x":0.09,"y":0.4,"v":0.78},{"x":0.19,"y":0.4,"v":0.79},{"x":0.29,"y":0.4,"v":0.79},{"x":0.39,"y":0.4,"v":0.8},{"x":0.49,"y":0.4,"v":0.81},{"x":0.59,"y":0.4,"v":0.81},{"x":0.69,"y":0.4,"v":0.82},{"x":0.79,"y":0.4,"v":0.82},{"x":0.89,"y":0.4,"v":0.83},{"x":0.99,"y":0.4,"v":0.84},{"x":1.09,"y":0.4,"v":0.84},{"x":1.19,"y":0.4,"v":0.85},{"x":1.29,"y":0.4,"v":0.85},{"x":1.39,"y":0.4,"v":0.86},{"x":1.49,"y":0.4,"v":0.86},{"x":1.59,"y":0.4,"v":0.87},{"x":1.69,"y":0.4,"v":0.87},{"x":1.79,"y":0.4,"v":0.88},{"x":1.89,"y":0.4,"v":0.88},
{"x":-0.41,"y":0.5,"v":0.62},{"x":-0.31,"y":0.5,"v":0.73},{"x":-0.21,"y":0.5,"v":0.74},{"x":-0.11,"y":0.5,"v":0.75},{"x":-0.01,"y":0.5,"v":0.76},{"x":0.09,"y":0.5,"v":0.77},{"x":0.19,"y":0.5,"v":0.78},{"x":0.29,"y":0.5,"v":0.78},{"x":0.39,"y":0.5,"v":0.79},{"x":0.49,"y":0.5,"v":0.8},{"x":0.59,"y":0.5,"v":0.8},{"x":0.69,"y":0.5,"v":0.81},{"x":0.79,"y":0.5,"v":0.82},{"x":0.89,"y":0.5,"v":0.82},{"x":0.99,"y":0.5,"v":0.83},{"x":1.09,"y":0.5,"v":0.83},{"x":1.19,"y":0.5,"v":0.84},{"x":1.29,"y":0.5,"v":0.84},{"x":1.39,"y":0.5,"v":0.85},{"x":1.49,"y":0.5,"v":0.85},{"x":1.59,"y":0.5,"v":0.86},{"x":1.69,"y":0.5,"v":0.86},{"x":1.79,"y":0.5,"v":0.87},
{"x":-0.41,"y":0.6,"v":0.94},{"x":-0.31,"y":0.6,"v":0.72},{"x":-0.21,"y":0.6,"v":0.73},{"x":-0.11,"y":0.6,"v":0.74},{"x":-0.01,"y":0.6,"v":0.75},{"x":0.09,"y":0.6,"v":0.76},{"x":0.19,"y":0.6,"v":0.77},{"x":0.29,"y":0.6,"v":0.77},{"x":0.39,"y":0.6,"v":0.78},{"x":0.49,"y":0.6,"v":0.79},{"x":0.59,"y":0.6,"v":0.79},{"x":0.69,"y":0.6,"v":0.8},{"x":0.79,"y":0.6,"v":0.81},{"x":0.89,"y":0.6,"v":0.81},{"x":0.99,"y":0.6,"v":0.82},{"x":1.09,"y":0.6,"v":0.82},{"x":1.19,"y":0.6,"v":0.83},{"x":1.29,"y":0.6,"v":0.83},{"x":1.39,"y":0.6,"v":0.84},{"x":1.49,"y":0.6,"v":0.84},{"x":1.59,"y":0.6,"v":0.85},{"x":1.69,"y":0.6,"v":0.85},
{"x":-0.41,"y":0.7,"v":0.62},{"x":-0.31,"y":0.7,"v":0.71},{"x":-0.21,"y":0.7,"v":0.72},{"x":-0.11,"y":0.7,"v":0.73},{"x":-0.01,"y":0.7,"v":0.74},{"x":0.09,"y":0.7,"v":0.75},{"x":0.19,"y":0.7,"v":0.76},{"x":0.29,"y":0.7,"v":0.77},{"x":0.39,"y":0.7,"v":0.77},{"x":0.49,"y":0.7,"v":0.78},{"x":0.59,"y":0.7,"v":0.79},{"x":0.69,"y":0.7,"v":0.79},{"x":0.79,"y":0.7,"v":0.8},{"x":0.89,"y":0.7,"v":0.81},{"x":0.99,"y":0.7,"v":0.81},{"x":1.09,"y":0.7,"v":0.82},{"x":1.19,"y":0.7,"v":0.82},{"x":1.29,"y":0.7,"v":0.83},{"x":1.39,"y":0.7,"v":0.83},{"x":1.49,"y":0.7,"v":0.84},{"x":1.59,"y":0.7,"v":0.84},
{"x":-0.31,"y":0.8,"v":0.7},{"x":-0.21,"y":0.8,"v":0.71},{"x":-0.11,"y":0.8,"v":0.72},{"x":-0.01,"y":0.8,"v":0.73},{"x":0.09,"y":0.8,"v":0.74},{"x":0.19,"y":0.8,"v":0.75},{"x":0.29,"y":0.8,"v":0.76},{"x":0.39,"y":0.8,"v":0.77},{"x":0.49,"y":0.8,"v":0.77},{"x":0.59,"y":0.8,"v":0.78},{"x":0.69,"y":0.8,"v":0.79},{"x":0.79,"y":0.8,"v":0.79},{"x":0.89,"y":0.8,"v":0.8},{"x":0.99,"y":0.8,"v":0.81},{"x":1.09,"y":0.8,"v":0.81},{"x":1.19,"y":0.8,"v":0.82},{"x":1.29,"y":0.8,"v":0.82},{"x":1.39,"y":0.8,"v":0.83},{"x":1.49,"y":0.8,"v":0.83},
{"x":-0.41,"y":0.9,"v":0.96},{"x":-0.31,"y":0.9,"v":0.69},{"x":-0.21,"y":0.9,"v":0.7},{"x":-0.11,"y":0.9,"v":0.71},{"x":-0.01,"y":0.9,"v":0.72},{"x":0.09,"y":0.9,"v":0.73},{"x":0.19,"y":0.9,"v":0.74},{"x":0.29,"y":0.9,"v":0.75},{"x":0.39,"y":0.9,"v":0.76},{"x":0.49,"y":0.9,"v":0.77},{"x":0.59,"y":0.9,"v":0.77},{"x":0.69,"y":0.9,"v":0.78},{"x":0.79,"y":0.9,"v":0.79},{"x":0.89,"y":0.9,"v":0.79},{"x":0.99,"y":0.9,"v":0.8},{"x":1.09,"y":0.9,"v":0.81},{"x":1.19,"y":0.9,"v":0.81},{"x":1.29,"y":0.9,"v":0.82},{"x":1.39,"y":0.9,"v":0.82},
{"x":-0.31,"y":1,"v":0.68},{"x":-0.21,"y":1,"v":0.69},{"x":-0.11,"y":1,"v":0.7},{"x":-0.01,"y":1,"v":0.71},{"x":0.09,"y":1,"v":0.72},{"x":0.19,"y":1,"v":0.73},{"x":0.29,"y":1,"v":0.74},{"x":0.39,"y":1,"v":0.75},{"x":0.49,"y":1,"v":0.76},{"x":0.59,"y":1,"v":0.77},{"x":0.69,"y":1,"v":0.77},{"x":0.79,"y":1,"v":0.78},{"x":0.89,"y":1,"v":0.79},{"x":0.99,"y":1,"v":0.79},{"x":1.09,"y":1,"v":0.8},{"x":1.19,"y":1,"v":0.81},{"x":1.29,"y":1,"v":0.81},
{"x":-0.41,"y":1.1,"v":0.95},{"x":-0.31,"y":1.1,"v":0.66},{"x":-0.21,"y":1.1,"v":0.68},{"x":-0.11,"y":1.1,"v":0.69},{"x":-0.01,"y":1.1,"v":0.7},{"x":0.09,"y":1.1,"v":0.71},{"x":0.19,"y":1.1,"v":0.72},{"x":0.29,"y":1.1,"v":0.73},{"x":0.39,"y":1.1,"v":0.74},{"x":0.49,"y":1.1,"v":0.75},{"x":0.59,"y":1.1,"v":0.76},{"x":0.69,"y":1.1,"v":0.77},{"x":0.79,"y":1.1,"v":0.78},{"x":0.89,"y":1.1,"v":0.78},{"x":0.99,"y":1.1,"v":0.79},{"x":1.09,"y":1.1,"v":0.8},{"x":1.19,"y":1.1,"v":0.8},
{"x":-0.31,"y":1.2,"v":0.64},{"x":-0.21,"y":1.2,"v":0.66},{"x":-0.11,"y":1.2,"v":0.68},{"x":-0.01,"y":1.2,"v":0.69},{"x":0.09,"y":1.2,"v":0.7},{"x":0.19,"y":1.2,"v":0.71},{"x":0.29,"y":1.2,"v":0.72},{"x":0.39,"y":1.2,"v":0.73},{"x":0.49,"y":1.2,"v":0.74},{"x":0.59,"y":1.2,"v":0.75},{"x":0.69,"y":1.2,"v":0.76},{"x":0.79,"y":1.2,"v":0.77},{"x":0.89,"y":1.2,"v":0.78},{"x":0.99,"y":1.2,"v":0.78},{"x":1.09,"y":1.2,"v":0.79},
{"x":-0.41,"y":1.3,"v":0.62},{"x":-0.31,"y":1.3,"v":0.62},{"x":-0.21,"y":1.3,"v":0.64},{"x":-0.11,"y":1.3,"v":0.66},{"x":-0.01,"y":1.3,"v":0.67},{"x":0.09,"y":1.3,"v":0.69},{"x":0.19,"y":1.3,"v":0.7},{"x":0.29,"y":1.3,"v":0.71},{"x":0.39,"y":1.3,"v":0.72},{"x":0.49,"y":1.3,"v":0.73},{"x":0.59,"y":1.3,"v":0.74},{"x":0.69,"y":1.3,"v":0.75},{"x":0.79,"y":1.3,"v":0.76},{"x":0.89,"y":1.3,"v":0.77},{"x":0.99,"y":1.3,"v":0.78},
{"x":-0.41,"y":1.4,"v":0.55},{"x":-0.31,"y":1.4,"v":0.58},{"x":-0.21,"y":1.4,"v":0.61},{"x":-0.11,"y":1.4,"v":0.64},{"x":-0.01,"y":1.4,"v":0.65},{"x":0.09,"y":1.4,"v":0.67},{"x":0.19,"y":1.4,"v":0.68},{"x":0.29,"y":1.4,"v":0.69},{"x":0.39,"y":1.4,"v":0.71},{"x":0.49,"y":1.4,"v":0.72},{"x":0.59,"y":1.4,"v":0.73},{"x":0.69,"y":1.4,"v":0.74},{"x":0.79,"y":1.4,"v":0.75},{"x":0.89,"y":1.4,"v":0.77},
{"x":-0.41,"y":1.5,"v":0.28},{"x":-0.31,"y":1.5,"v":0.55},{"x":-0.21,"y":1.5,"v":0.59},{"x":-0.11,"y":1.5,"v":0.62},{"x":-0.01,"y":1.5,"v":0.64},{"x":0.09,"y":1.5,"v":0.65},{"x":0.19,"y":1.5,"v":0.67},{"x":0.29,"y":1.5,"v":0.68},{"x":0.39,"y":1.5,"v":0.7},{"x":0.49,"y":1.5,"v":0.71},{"x":0.59,"y":1.5,"v":0.72},{"x":0.69,"y":1.5,"v":0.74},{"x":0.79,"y":1.5,"v":0.76},
{"x":-0.31,"y":1.6,"v":0.52},{"x":-0.21,"y":1.6,"v":0.57},{"x":-0.11,"y":1.6,"v":0.6},{"x":-0.01,"y":1.6,"v":0.62},{"x":0.09,"y":1.6,"v":0.64},{"x":0.19,"y":1.6,"v":0.65},{"x":0.29,"y":1.6,"v":0.67},{"x":0.39,"y":1.6,"v":0.69},{"x":0.49,"y":1.6,"v":0.7},{"x":0.59,"y":1.6,"v":0.72},{"x":0.69,"y":1.6,"v":0.74},
{"x":-0.41,"y":1.7,"v":0.32},{"x":-0.31,"y":1.7,"v":0.48},{"x":-0.21,"y":1.7,"v":0.55},{"x":-0.11,"y":1.7,"v":0.58},{"x":-0.01,"y":1.7,"v":0.6},{"x":0.09,"y":1.7,"v":0.62},{"x":0.19,"y":1.7,"v":0.64},{"x":0.29,"y":1.7,"v":0.66},{"x":0.39,"y":1.7,"v":0.68},{"x":0.49,"y":1.7,"v":0.7},{"x":0.59,"y":1.7,"v":0.72},
{"x":-0.41,"y":1.8,"v":0.4},{"x":-0.31,"y":1.8,"v":0.45},{"x":-0.21,"y":1.8,"v":0.52},{"x":-0.11,"y":1.8,"v":0.56},{"x":-0.01,"y":1.8,"v":0.58},{"x":0.09,"y":1.8,"v":0.61},{"x":0.19,"y":1.8,"v":0.63},{"x":0.29,"y":1.8,"v":0.65},{"x":0.39,"y":1.8,"v":0.67},{"x":0.49,"y":1.8,"v":0.7},
{"x":-0.31,"y":1.9,"v":0.42},{"x":-0.21,"y":1.9,"v":0.5},{"x":-0.11,"y":1.9,"v":0.54},{"x":-0.01,"y":1.9,"v":0.57},{"x":0.09,"y":1.9,"v":0.6},{"x":0.19,"y":1.9,"v":0.62},{"x":0.29,"y":1.9,"v":0.64},{"x":0.39,"y":1.9,"v":0.68},
{"x":-0.41,"y":2,"v":0.45},{"x":-0.31,"y":2,"v":0.35},{"x":-0.21,"y":2,"v":0.48},{"x":-0.11,"y":2,"v":0.52},{"x":-0.01,"y":2,"v":0.56},{"x":0.09,"y":2,"v":0.6},{"x":0.19,"y":2,"v":0.62},{"x":0.29,"y":2,"v":0.66},
{"x":-0.41,"y":2.1,"v":0.48},{"x":-0.31,"y":2.1,"v":0.3},{"x":-0.21,"y":2.1,"v":0.45},{"x":-0.11,"y":2.1,"v":0.52},{"x":-0.01,"y":2.1,"v":0.56},{"x":0.09,"y":2.1,"v":0.6},{"x":0.19,"y":2.1,"v":0.85},
{"x":-0.31,"y":2.2,"v":0.24},{"x":-0.21,"y":2.2,"v":0.4},{"x":-0.11,"y":2.2,"v":0.45},{"x":-0.01,"y":2.2,"v":0.52},
{"x":-0.31,"y":2.3,"v":0.17},{"x":-0.21,"y":2.3,"v":0.2},{"x":-0.11,"y":2.3,"v":0.4}
],
"labels": [{"p":1,"t":"Splitting 1"},{"p":2,"t":"Splitting 2"},{"p":3,"t":"Splitting 3"}],
"notes": [{"p":1,"t":["Eⱼₑₜ = 1000 GeV","1 GeV/c < |κ|","θ² < 4","m² ordering","|κ|² scheme"]}],
"bar": [{"lo":0.1,"hi":10}]
},
"config": {
"view": {"fill": "#aaaaaa", "stroke": "#474747", "strokeWidth": 1.2},
"font": "Liberation Serif",
"axis": {"grid": false, "domain": false, "tickColor": "#222222", "tickSize": 4, "tickWidth": 1, "labelFont": "Liberation Serif", "labelFontSize": 16, "labelColor": "#222222", "labelPadding": 2, "titleFont": "Liberation Serif", "titleFontSize": 17, "titleFontWeight": "normal", "titleColor": "#222222"}
},
"spacing": 6,
"hconcat": [
{"spacing": 8, "bounds": "flush", "resolve": {"scale": {"color": "shared"}},
 "hconcat": [
{"width": 214, "height": 215, "layer": [
 {"data": {"name": "p1"}, "mark": {"type": "rect", "binSpacing": 0},
  "encoding": {
   "x": {"field": "x", "type": "quantitative", "bin": {"binned": true, "step": 0.1}, "scale": {"domain": [-0.5, 3.5], "nice": false, "zero": false}, "axis": {"values": [0, 1, 2, 3], "format": "d", "title": "log₁₀(1/θ)", "titlePadding": 1}},
   "y": {"field": "y", "type": "quantitative", "bin": {"binned": true, "step": 0.1}, "scale": {"domain": [-0.5, 3.5], "nice": false, "zero": false}, "axis": {"values": [0, 1, 2, 3], "format": "d", "title": ["|κ|\u00a0\u00a0\u00a0", "log₁₀\u00a0────", "GeV/c"], "titleAlign": "right", "titleY": 49, "titleLineHeight": 11, "titlePadding": 11}},
   "color": {"field": "v", "type": "quantitative", "scale": {"type": "log", "domain": [0.1, 10], "scheme": "redblue", "reverse": true}, "legend": null}
  }},
 {"data": {"name": "p1"}, "mark": {"type": "rect", "binSpacing": 0},
  "encoding": {
   "x": {"field": "x", "type": "quantitative", "bin": {"binned": true, "step": 0.1}, "scale": {"domain": [-0.5, 3.5], "nice": false, "zero": false}, "axis": {"values": [0, 1, 2, 3], "format": "d", "title": "log₁₀(1/θ)", "titlePadding": 1}},
   "y": {"field": "y", "type": "quantitative", "bin": {"binned": true, "step": 0.1}, "scale": {"domain": [-0.5, 3.5], "nice": false, "zero": false}, "axis": {"values": [0, 1, 2, 3], "format": "d", "title": ["|κ|\u00a0\u00a0\u00a0", "log₁₀\u00a0────", "GeV/c"], "titleAlign": "right", "titleY": 49, "titleLineHeight": 11, "titlePadding": 11}},
   "color": {"field": "v", "type": "quantitative", "scale": {"type": "log", "domain": [0.1, 10], "scheme": "redblue", "reverse": true}, "legend": null}
  }},
 {"data": {"name": "p1"}, "mark": {"type": "rect", "binSpacing": 0},
  "encoding": {
   "x": {"field": "x", "type": "quantitative", "bin": {"binned": true, "step": 0.1}, "scale": {"domain": [-0.5, 3.5], "nice": false, "zero": false}, "axis": {"values": [0, 1, 2, 3], "format": "d", "title": "log₁₀(1/θ)", "titlePadding": 1}},
   "y": {"field": "y", "type": "quantitative", "bin": {"binned": true, "step": 0.1}, "scale": {"domain": [-0.5, 3.5], "nice": false, "zero": false}, "axis": {"values": [0, 1, 2, 3], "format": "d", "title": ["|κ|\u00a0\u00a0\u00a0", "log₁₀\u00a0────", "GeV/c"], "titleAlign": "right", "titleY": 49, "titleLineHeight": 11, "titlePadding": 11}},
   "color": {"field": "v", "type": "quantitative", "scale": {"type": "log", "domain": [0.1, 10], "scheme": "redblue", "reverse": true}, "legend": null}
  }},
 {"data": {"name": "labels"}, "transform": [{"filter": "datum.p == 1"}], "mark": {"type": "text", "align": "left", "baseline": "alphabetic", "fontSize": 17, "font": "Liberation Serif", "color": "#1a1a1a"},
  "encoding": {"x": {"datum": -0.4}, "y": {"datum": 3.07}, "text": {"field": "t", "type": "nominal"}}},
 {"data": {"name": "notes"}, "mark": {"type": "text", "align": "right", "baseline": "alphabetic", "fontSize": 17, "lineHeight": 29, "font": "Liberation Serif", "color": "#1a1a1a"},
  "encoding": {"x": {"datum": 3.42}, "y": {"datum": 3.07}, "text": {"field": "t", "type": "nominal"}}}
]},
{"width": 214, "height": 215, "layer": [
 {"data": {"name": "p2"}, "mark": {"type": "rect", "binSpacing": 0},
  "encoding": {
   "x": {"field": "x", "type": "quantitative", "bin": {"binned": true, "step": 0.1}, "scale": {"domain": [-0.5, 3.5], "nice": false, "zero": false}, "axis": {"values": [0, 1, 2, 3], "format": "d", "title": "log₁₀(1/θ)", "titlePadding": 1}},
   "y": {"field": "y", "type": "quantitative", "bin": {"binned": true, "step": 0.1}, "scale": {"domain": [-0.5, 3.5], "nice": false, "zero": false}, "axis": {"values": [0, 1, 2, 3], "labels": false, "title": null}},
   "color": {"field": "v", "type": "quantitative", "scale": {"type": "log", "domain": [0.1, 10], "scheme": "redblue", "reverse": true}, "legend": null}
  }},
 {"data": {"name": "p2"}, "mark": {"type": "rect", "binSpacing": 0},
  "encoding": {
   "x": {"field": "x", "type": "quantitative", "bin": {"binned": true, "step": 0.1}, "scale": {"domain": [-0.5, 3.5], "nice": false, "zero": false}, "axis": {"values": [0, 1, 2, 3], "format": "d", "title": "log₁₀(1/θ)", "titlePadding": 1}},
   "y": {"field": "y", "type": "quantitative", "bin": {"binned": true, "step": 0.1}, "scale": {"domain": [-0.5, 3.5], "nice": false, "zero": false}, "axis": {"values": [0, 1, 2, 3], "labels": false, "title": null}},
   "color": {"field": "v", "type": "quantitative", "scale": {"type": "log", "domain": [0.1, 10], "scheme": "redblue", "reverse": true}, "legend": null}
  }},
 {"data": {"name": "p2"}, "mark": {"type": "rect", "binSpacing": 0},
  "encoding": {
   "x": {"field": "x", "type": "quantitative", "bin": {"binned": true, "step": 0.1}, "scale": {"domain": [-0.5, 3.5], "nice": false, "zero": false}, "axis": {"values": [0, 1, 2, 3], "format": "d", "title": "log₁₀(1/θ)", "titlePadding": 1}},
   "y": {"field": "y", "type": "quantitative", "bin": {"binned": true, "step": 0.1}, "scale": {"domain": [-0.5, 3.5], "nice": false, "zero": false}, "axis": {"values": [0, 1, 2, 3], "labels": false, "title": null}},
   "color": {"field": "v", "type": "quantitative", "scale": {"type": "log", "domain": [0.1, 10], "scheme": "redblue", "reverse": true}, "legend": null}
  }},
 {"data": {"name": "labels"}, "transform": [{"filter": "datum.p == 2"}], "mark": {"type": "text", "align": "left", "baseline": "alphabetic", "fontSize": 17, "font": "Liberation Serif", "color": "#1a1a1a"},
  "encoding": {"x": {"datum": -0.4}, "y": {"datum": 3.07}, "text": {"field": "t", "type": "nominal"}}}
]},
{"width": 214, "height": 215, "layer": [
 {"data": {"name": "p3"}, "mark": {"type": "rect", "binSpacing": 0},
  "encoding": {
   "x": {"field": "x", "type": "quantitative", "bin": {"binned": true, "step": 0.1}, "scale": {"domain": [-0.5, 3.5], "nice": false, "zero": false}, "axis": {"values": [0, 1, 2, 3], "format": "d", "title": "log₁₀(1/θ)", "titlePadding": 1}},
   "y": {"field": "y", "type": "quantitative", "bin": {"binned": true, "step": 0.1}, "scale": {"domain": [-0.5, 3.5], "nice": false, "zero": false}, "axis": {"values": [0, 1, 2, 3], "labels": false, "title": null}},
   "color": {"field": "v", "type": "quantitative", "scale": {"type": "log", "domain": [0.1, 10], "scheme": "redblue", "reverse": true}, "legend": null}
  }},
 {"data": {"name": "p3"}, "mark": {"type": "rect", "binSpacing": 0},
  "encoding": {
   "x": {"field": "x", "type": "quantitative", "bin": {"binned": true, "step": 0.1}, "scale": {"domain": [-0.5, 3.5], "nice": false, "zero": false}, "axis": {"values": [0, 1, 2, 3], "format": "d", "title": "log₁₀(1/θ)", "titlePadding": 1}},
   "y": {"field": "y", "type": "quantitative", "bin": {"binned": true, "step": 0.1}, "scale": {"domain": [-0.5, 3.5], "nice": false, "zero": false}, "axis": {"values": [0, 1, 2, 3], "labels": false, "title": null}},
   "color": {"field": "v", "type": "quantitative", "scale": {"type": "log", "domain": [0.1, 10], "scheme": "redblue", "reverse": true}, "legend": null}
  }},
 {"data": {"name": "p3"}, "mark": {"type": "rect", "binSpacing": 0},
  "encoding": {
   "x": {"field": "x", "type": "quantitative", "bin": {"binned": true, "step": 0.1}, "scale": {"domain": [-0.5, 3.5], "nice": false, "zero": false}, "axis": {"values": [0, 1, 2, 3], "format": "d", "title": "log₁₀(1/θ)", "titlePadding": 1}},
   "y": {"field": "y", "type": "quantitative", "bin": {"binned": true, "step": 0.1}, "scale": {"domain": [-0.5, 3.5], "nice": false, "zero": false}, "axis": {"values": [0, 1, 2, 3], "labels": false, "title": null}},
   "color": {"field": "v", "type": "quantitative", "scale": {"type": "log", "domain": [0.1, 10], "scheme": "redblue", "reverse": true}, "legend": null}
  }},
 {"data": {"name": "labels"}, "transform": [{"filter": "datum.p == 3"}], "mark": {"type": "text", "align": "left", "baseline": "alphabetic", "fontSize": 17, "font": "Liberation Serif", "color": "#1a1a1a"},
  "encoding": {"x": {"datum": -0.4}, "y": {"datum": 3.07}, "text": {"field": "t", "type": "nominal"}}}
]}
]},
{"width": 18, "height": 215,
 "data": {"name": "bar"},
 "mark": {"type": "rect", "color": {"gradient": "linear", "x1": 0, "y1": 1, "x2": 0, "y2": 0, "stops": [
   {"offset": 0, "color": "#053061"}, {"offset": 0.1, "color": "#2166ac"}, {"offset": 0.2, "color": "#4393c3"}, {"offset": 0.3, "color": "#92c5de"}, {"offset": 0.4, "color": "#d1e5f0"}, {"offset": 0.5, "color": "#f7f7f7"}, {"offset": 0.6, "color": "#fddbc7"}, {"offset": 0.7, "color": "#f4a582"}, {"offset": 0.8, "color": "#d6604d"}, {"offset": 0.9, "color": "#b2182b"}, {"offset": 1, "color": "#67001f"}]}},
 "encoding": {
   "y": {"field": "lo", "type": "quantitative", "scale": {"type": "log", "domain": [0.1, 10], "nice": false},
     "axis": {"orient": "right", "values": [0.1, 0.2, 0.3, 0.4, 0.5, 0.6, 0.7, 0.8, 0.9, 1, 2, 3, 4, 5, 6, 7, 8, 9, 10],
       "labelExpr": "datum.value == 10 ? '10¹' : datum.value == 1 ? '10⁰' : datum.value == 0.1 ? '10⁻¹' : ''",
       "labelBaseline": {"condition": {"test": "datum.value == 10", "value": "top"}, "value": "middle"},
       "labelFontSize": {"condition": {"test": "datum.value == 10 || datum.value == 1 || datum.value == 0.1", "value": 16}, "value": 0},
       "tickSize": {"condition": {"test": "datum.value == 10 || datum.value == 1 || datum.value == 0.1", "value": 4}, "value": 2},
       "labelOverlap": false, "labelPadding": 2,
       "title": ["Time Inversions Excluded", "——————————", "Inclusive Sample"],
       "titleAngle": 270, "titleBaseline": "top", "titleLineHeight": 11, "titleX": 39}},
   "y2": {"field": "hi"}
 }}
]
}
